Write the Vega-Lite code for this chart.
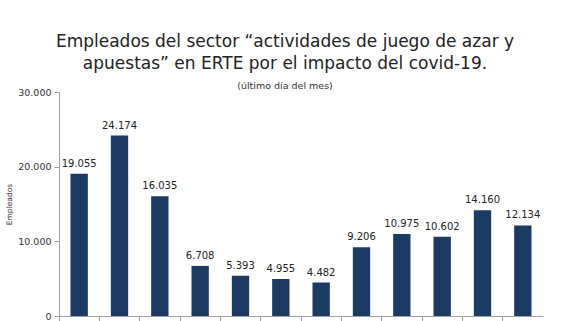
{
  "$schema": "https://vega.github.io/schema/vega-lite/v6.json",
  "autosize": "none",
  "width": 484,
  "height": 224,
  "padding": {"left": 59, "top": 92, "right": 18, "bottom": 5},
  "background": "white",
  "config": {
    "view": {"stroke": null},
    "locale": {"number": {"decimal": ",", "thousands": ".", "grouping": [3], "currency": ["", " €"]}},
    "font": "DejaVu Sans"
  },
  "title": {
    "text": ["Empleados del sector “actividades de juego de azar y", "apuestas” en ERTE por el impacto del covid-19."],
    "subtitle": "(último día del mes)",
    "anchor": "middle",
    "dx": -16,
    "offset": -4,
    "font": "DejaVu Sans",
    "fontSize": 17,
    "fontWeight": "normal",
    "color": "#222222",
    "lineHeight": 22,
    "subtitleFont": "DejaVu Sans",
    "subtitleFontSize": 9.5,
    "subtitleColor": "#333333",
    "subtitlePadding": 8
  },
  "data": {
    "values": [
      {"mes": "mar-20", "empleados": 19055},
      {"mes": "abr-20", "empleados": 24174},
      {"mes": "may-20", "empleados": 16035},
      {"mes": "jun-20", "empleados": 6708},
      {"mes": "jul-20", "empleados": 5393},
      {"mes": "ago-20", "empleados": 4955},
      {"mes": "sep-20", "empleados": 4482},
      {"mes": "oct-20", "empleados": 9206},
      {"mes": "nov-20", "empleados": 10975},
      {"mes": "dic-20", "empleados": 10602},
      {"mes": "ene-21", "empleados": 14160},
      {"mes": "feb-21", "empleados": 12134}
    ]
  },
  "encoding": {
    "x": {
      "field": "mes",
      "type": "ordinal",
      "sort": null,
      "scale": {"paddingInner": 0, "paddingOuter": 0},
      "axis": {
        "title": null,
        "labels": false,
        "bandPosition": 0,
        "tickSize": 5,
        "tickColor": "#a0a0a0",
        "domainColor": "#a0a0a0"
      }
    },
    "y": {
      "field": "empleados",
      "type": "quantitative",
      "scale": {"domain": [0, 30000], "nice": false},
      "axis": {
        "title": "Empleados",
        "titleFont": "DejaVu Sans",
        "titleFontSize": 7.5,
        "titleFontWeight": "normal",
        "titleColor": "#333333",
        "titlePadding": 4,
        "values": [0, 10000, 20000, 30000],
        "format": ",d",
        "grid": false,
        "labelFontSize": 9.5,
        "labelColor": "#333333",
        "labelPadding": 3,
        "tickSize": 5,
        "tickColor": "#a0a0a0",
        "domainColor": "#a0a0a0"
      }
    }
  },
  "layer": [
    {
      "mark": {"type": "bar", "color": "#1b3a64", "width": {"band": 0.43}}
    },
    {
      "mark": {"type": "text", "baseline": "bottom", "dy": -5, "fontSize": 10, "color": "#222222", "font": "DejaVu Sans"},
      "encoding": {"text": {"field": "empleados", "type": "quantitative", "format": ",d"}}
    }
  ]
}
